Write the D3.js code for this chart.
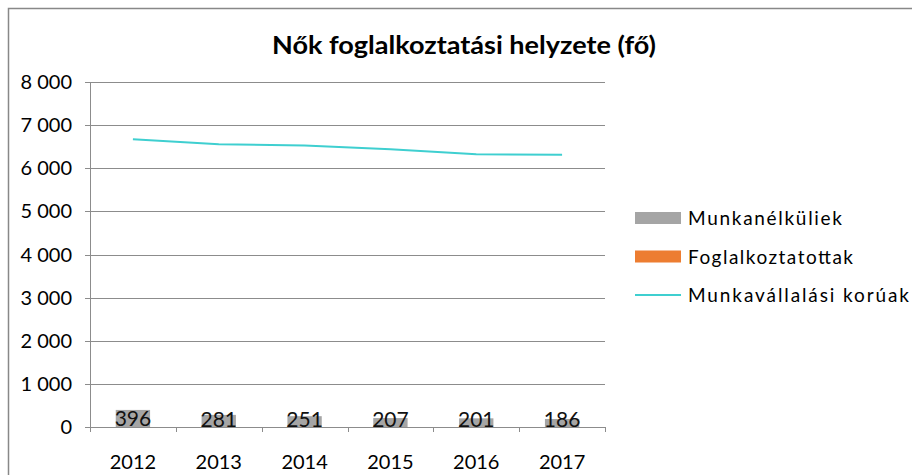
<!DOCTYPE html>
<html>
<head>
<meta charset="utf-8">
<script src="https://cdn.jsdelivr.net/npm/d3@7"></script>
<style>
  body { margin: 0; background: #fff; }
  svg { display: block; font-family: Lato, "Open Sans", sans-serif; }
</style>
</head>
<body>
<svg id="chart" width="912" height="475"></svg>
<script>
const years = ['2012', '2013', '2014', '2015', '2016', '2017'];
const unemployed = [396, 281, 251, 207, 201, 186];
const employed = [0, 0, 0, 0, 0, 0];
const workingAge = [6670, 6555, 6530, 6440, 6325, 6315];
const yTicks = [0, 1000, 2000, 3000, 4000, 5000, 6000, 7000, 8000];

const legendItems = [
  { name: 'Munkanélküliek', kind: 'bar', color: '#a5a5a5', len: 154 },
  { name: 'Foglalkoztatottak', kind: 'bar', color: '#ed7d31', len: 165 },
  { name: 'Munkavállalási korúak', kind: 'line', color: '#3fcfd0', len: 221 }
];

const svg = d3.select('#chart');
const gridColor = '#8c8c8c';
const fmt = d => d3.format(',')(d).replace(/,/g, '\u00a0');

// outer chart frame (runs off the right/bottom edge)
svg.append('rect')
  .attr('x', 8.5).attr('y', 8.5)
  .attr('width', 1000).attr('height', 1000)
  .attr('fill', 'none')
  .attr('stroke', '#888')
  .attr('stroke-width', 1.5);

svg.append('text')
  .attr('x', 464).attr('y', 54)
  .attr('text-anchor', 'middle')
  .attr('font-size', 25)
  .attr('font-weight', 'bold')
  .attr('fill', '#000')
  .attr('textLength', 384)
  .attr('lengthAdjust', 'spacingAndGlyphs')
  .text('Nők foglalkoztatási helyzete (fő)');

const x = d3.scaleBand().domain(years).range([90, 605]);
const y = d3.scaleLinear().domain([0, 8000]).range([427, 82]);

// gridlines + y labels
const yAxis = svg.append('g').attr('class', 'y-axis');
yAxis.selectAll('line')
  .data(yTicks)
  .join('line')
  .attr('x1', 85).attr('x2', 605)
  .attr('y1', d => Math.round(y(d)) + 0.5)
  .attr('y2', d => Math.round(y(d)) + 0.5)
  .attr('stroke', gridColor);
yAxis.selectAll('text')
  .data(yTicks)
  .join('text')
  .attr('x', 72)
  .attr('y', d => y(d) + 7)
  .attr('text-anchor', 'end')
  .attr('font-size', 20)
  .attr('fill', '#000')
  .text(fmt);

// vertical axis line
svg.append('line')
  .attr('x1', 90.5).attr('x2', 90.5)
  .attr('y1', y(8000)).attr('y2', 432)
  .attr('stroke', gridColor);

// category tick marks
const bounds = years.map(d => x(d)).concat([x.range()[1]]);
svg.append('g').selectAll('line')
  .data(bounds)
  .join('line')
  .attr('x1', d => Math.round(d) + 0.5)
  .attr('x2', d => Math.round(d) + 0.5)
  .attr('y1', 427).attr('y2', 432)
  .attr('stroke', gridColor);

svg.append('g').selectAll('text')
  .data(years)
  .join('text')
  .attr('x', d => x(d) + x.bandwidth() / 2)
  .attr('y', 469)
  .attr('text-anchor', 'middle')
  .attr('font-size', 20)
  .attr('fill', '#000')
  .text(d => d);

// bars (gap width 150%)
const barW = x.bandwidth() / 2.5;
const bars = svg.append('g');
bars.selectAll('rect.unemp')
  .data(years)
  .join('rect')
  .attr('class', 'unemp')
  .attr('x', d => x(d) + (x.bandwidth() - barW) / 2)
  .attr('width', barW)
  .attr('y', (d, i) => y(unemployed[i]))
  .attr('height', (d, i) => y(0) - y(unemployed[i]))
  .attr('fill', '#a5a5a5');
bars.selectAll('rect.emp')
  .data(years)
  .join('rect')
  .attr('class', 'emp')
  .attr('x', d => x(d) + (x.bandwidth() - barW) / 2)
  .attr('width', barW)
  .attr('y', (d, i) => y(unemployed[i] + employed[i]))
  .attr('height', (d, i) => y(unemployed[i]) - y(unemployed[i] + employed[i]))
  .attr('fill', '#ed7d31');

// line
const line = d3.line()
  .x((d, i) => x(years[i]) + x.bandwidth() / 2)
  .y(d => y(d));
svg.append('path')
  .datum(workingAge)
  .attr('d', line)
  .attr('fill', 'none')
  .attr('stroke', '#3fcfd0')
  .attr('stroke-width', 2);

// data labels
svg.append('g').selectAll('text')
  .data(years)
  .join('text')
  .attr('x', d => x(d) + x.bandwidth() / 2)
  .attr('y', (d, i) => Math.min((y(0) + y(unemployed[i])) / 2 + 8, 427))
  .attr('text-anchor', 'middle')
  .attr('font-size', 21)
  .attr('fill', '#111')
  .text((d, i) => unemployed[i]);

// legend
const legend = svg.append('g');
legendItems.forEach((item, i) => {
  const cy = 218 + i * 38.5;
  if (item.kind === 'bar') {
    legend.append('rect')
      .attr('x', 635).attr('y', cy - 6)
      .attr('width', 46).attr('height', 12)
      .attr('fill', item.color);
  } else {
    legend.append('line')
      .attr('x1', 635).attr('x2', 681)
      .attr('y1', cy).attr('y2', cy)
      .attr('stroke', item.color)
      .attr('stroke-width', 2);
  }
  legend.append('text')
    .attr('x', 688).attr('y', cy + 7)
    .attr('font-size', 19)
    .attr('fill', '#000')
    .attr('textLength', item.len)
    .attr('lengthAdjust', 'spacing')
    .text(item.name);
});
</script>
</body>
</html>
